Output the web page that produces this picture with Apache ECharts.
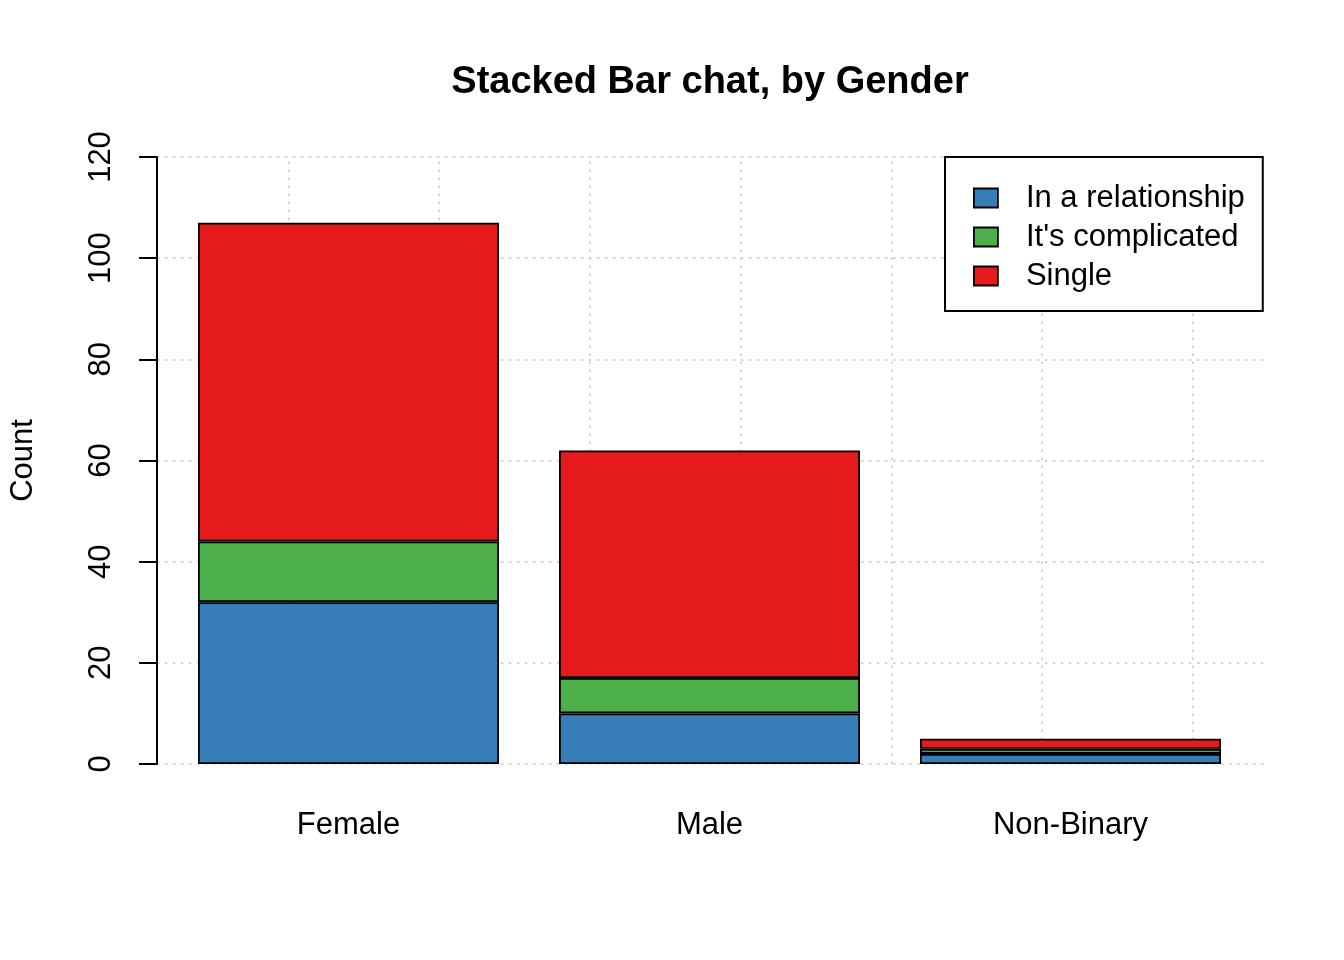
<!DOCTYPE html>
<html>
<head>
<meta charset="utf-8">
<script src="https://cdn.jsdelivr.net/npm/echarts@6/dist/echarts.min.js"></script>
<style>
html,body{margin:0;padding:0;background:#fff;}
#chart{width:1344px;height:960px;}
</style>
</head>
<body>
<div id="chart"></div>
<script>
var categories = ['Female', 'Male', 'Non-Binary'];
var seriesNames = ['In a relationship', "It's complicated", 'Single'];
var inRelationship = [32, 10, 2];
var itsComplicated = [12, 7, 1];
var single = [63, 45, 2];
var yTicks = [0, 20, 40, 60, 80, 100, 120];
var xGridValues = [0.5, 1, 1.5, 2, 2.5, 3, 3.5];

var colors = ['#377EB8', '#4DAF4A', '#E41A1C'];
var FONT = 'Liberation Sans, Arial, sans-serif';
var gridLine = { color: '#d3d3d3', width: 2, type: [2.5, 5.5] };

var chart = echarts.init(document.getElementById('chart'));
var seriesData = [inRelationship, itsComplicated, single];

var series = [{
  type: 'line',
  xAxisIndex: 0, yAxisIndex: 0,
  data: [],
  silent: true,
  z: 0,
  markLine: {
    silent: true,
    z: 0,
    symbol: ['none', 'none'],
    animation: false,
    label: { show: false },
    lineStyle: gridLine,
    data: xGridValues.map(function (v) { return { xAxis: v }; })
  }
}];
seriesNames.forEach(function (name, i) {
  series.push({
    name: name,
    type: 'bar',
    stack: 'total',
    xAxisIndex: 1, yAxisIndex: 1,
    barWidth: 301,
    z: 5,
    itemStyle: { color: colors[i], borderColor: '#000', borderWidth: 1.8 },
    data: seriesData[i]
  });
});

chart.setOption({
  animation: false,
  backgroundColor: '#fff',
  textStyle: { fontFamily: FONT },
  title: {
    text: 'Stacked Bar chat, by Gender',
    left: 705,
    textAlign: 'center',
    top: 59,
    textStyle: { fontFamily: FONT, fontSize: 38, fontWeight: 'bold', color: '#000' }
  },
  legend: {
    orient: 'vertical',
    left: 945,
    top: 157,
    z: 20,
    data: seriesNames,
    itemWidth: 24,
    itemHeight: 19,
    itemGap: 8,
    icon: 'rect',
    backgroundColor: '#fff',
    borderColor: '#000',
    borderWidth: 2,
    padding: [25.5, 18, 19.5, 28],
    itemStyle: { borderColor: '#000', borderWidth: 1.8 },
    textStyle: { fontFamily: FONT, fontSize: 31, color: '#000', padding: [0, 0, 0, 23] }
  },
  grid: [
    { left: 157, top: 157, width: 1107, height: 607 },
    { left: 168, top: 157, width: 1083, height: 607 }
  ],
  xAxis: [
    { type: 'value', gridIndex: 0, min: 0.064, max: 3.736, show: false, splitLine: { show: false } },
    {
      type: 'category', gridIndex: 1, data: categories,
      axisLine: { show: false }, axisTick: { show: false },
      axisLabel: { fontFamily: FONT, fontSize: 31, color: '#000', margin: 46 }
    }
  ],
  yAxis: [
    {
      type: 'value', gridIndex: 0, min: yTicks[0], max: yTicks[yTicks.length - 1], interval: 20,
      name: 'Count', nameLocation: 'middle', nameRotate: 90, nameGap: 118,
      nameTextStyle: { fontFamily: FONT, fontSize: 31, color: '#000' },
      axisLine: { show: true, lineStyle: { color: '#000', width: 2 } },
      axisTick: { show: true, length: 18, lineStyle: { color: '#000', width: 2 } },
      axisLabel: { rotate: 90, fontFamily: FONT, fontSize: 31, color: '#000', margin: 40 },
      splitLine: { show: true, lineStyle: gridLine }
    },
    {
      type: 'value', gridIndex: 1, min: yTicks[0], max: yTicks[yTicks.length - 1], interval: 20,
      show: false, splitLine: { show: false }
    }
  ],
  series: series
});
</script>
</body>
</html>
